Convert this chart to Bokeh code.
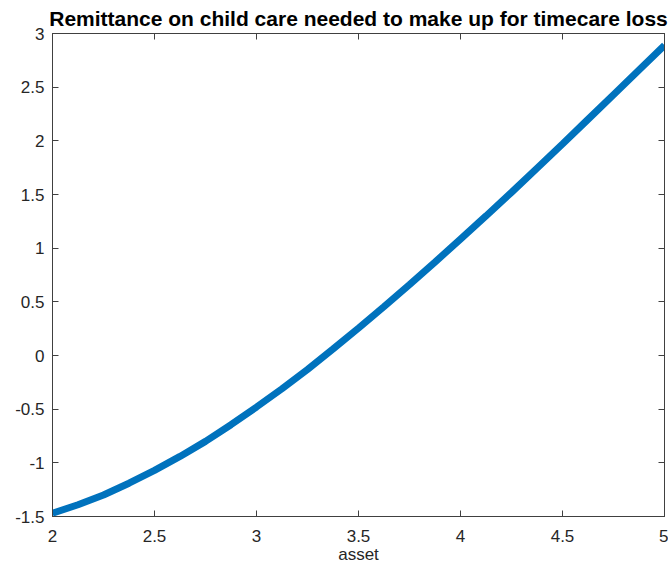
from bokeh.plotting import figure
from bokeh.models import LinearAxis, FixedTicker
from bokeh.embed import file_html
from bokeh.resources import INLINE

# data
asset = [2.0, 2.125, 2.25, 2.375, 2.5, 2.625, 2.75, 2.875, 3.0, 3.125, 3.25, 3.375,
         3.5, 3.625, 3.75, 3.875, 4.0, 4.125, 4.25, 4.375, 4.5, 4.625, 4.75, 4.875, 5.0]
remittance = [-1.47, -1.39, -1.30, -1.19, -1.07, -0.94, -0.80, -0.645, -0.48, -0.31,
              -0.13, 0.06, 0.255, 0.455, 0.66, 0.87, 1.085, 1.30, 1.52, 1.745, 1.97,
              2.20, 2.43, 2.66, 2.89]
x_ticks = [2, 2.5, 3, 3.5, 4, 4.5, 5]
y_ticks = [-1.5, -1, -0.5, 0, 0.5, 1, 1.5, 2, 2.5, 3]
x_labels = {2: "2", 2.5: "2.5", 3: "3", 3.5: "3.5", 4: "4", 4.5: "4.5", 5: "5"}
y_labels = {-1.5: "-1.5", -1: "-1", -0.5: "-0.5", 0: "0", 0.5: "0.5", 1: "1",
            1.5: "1.5", 2: "2", 2.5: "2.5", 3: "3"}
title_text = "Remittance on child care needed to make up for timecare loss"

FONT = "Liberation Sans"
AX = "#404040"

p = figure(width=668, height=570, x_range=(2, 5), y_range=(-1.5, 3),
           output_backend="svg", toolbar_location=None,
           min_border_left=52, min_border_right=4, min_border_top=33,
           min_border_bottom=54, x_axis_location=None, y_axis_location=None)
p.title.text = title_text
p.title.align = "center"
p.title.text_font = FONT
p.title.text_font_size = "21px"
p.title.text_font_style = "bold"
p.title.text_color = "black"
p.title.offset = 0
p.title.standoff = 8
p.xgrid.visible = False
p.ygrid.visible = False
p.outline_line_color = AX
p.outline_line_width = 1
p.background_fill_color = "white"
p.border_fill_color = "white"


def style(ax, ticks, labels, show):
    ax.ticker = FixedTicker(ticks=ticks)
    ax.axis_line_color = AX
    ax.major_tick_line_color = AX
    ax.major_tick_in = 6
    ax.major_tick_out = 0
    ax.minor_tick_line_color = None
    ax.major_label_text_font = FONT
    ax.major_label_text_color = "#262626"
    ax.major_label_text_font_size = "17px"
    if show:
        ax.major_label_overrides = labels
        ax.major_label_standoff = 8
    else:
        ax.major_label_overrides = {t: "" for t in ticks}
        ax.major_label_standoff = 0


xb = LinearAxis(axis_label="asset")
style(xb, x_ticks, x_labels, True)
xb.major_label_standoff = 13
xb.axis_label_text_font = FONT
xb.axis_label_text_font_size = "17px"
xb.axis_label_text_font_style = "normal"
xb.axis_label_text_color = "#262626"
xb.axis_label_standoff = 0
p.add_layout(xb, "below")

yl = LinearAxis()
style(yl, y_ticks, y_labels, True)
p.add_layout(yl, "left")

xt = LinearAxis()
style(xt, x_ticks, x_labels, False)
p.add_layout(xt, "above")

yr = LinearAxis()
style(yr, y_ticks, y_labels, False)
p.add_layout(yr, "right")

p.line(asset, remittance, line_color="#0072BD", line_width=7)

open("out.html", "w").write(file_html(p, INLINE))
